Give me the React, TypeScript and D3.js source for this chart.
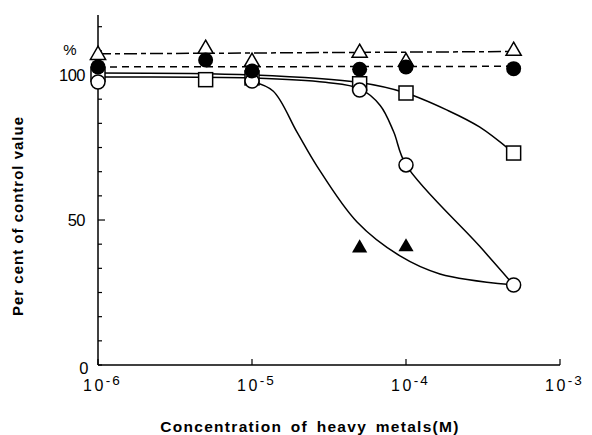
import { scaleLog, scaleLinear, line, curveCatmullRom, symbol, symbolTriangle } from 'd3';

// concentrations (M) where measurements were taken
const conc = [1e-6, 5e-6, 1e-5, 5e-5, 1e-4, 5e-4];

// per cent of control value
const openTriangle = [106.9, 109, 104.5, 107.6, 104.5, 108.3];
const filledCircle = [102.8, 105.2, 101.4, 102, 102.8, 102.2];
const openSquare = [100.3, 98.4, 99, 97, 93.8, 73.1];
const openCircle = [97.6, null, 97.9, 94.8, 69, 27.6];
const filledTriangleConc = [5e-5, 1e-4];
const filledTriangle = [40.3, 40.7];

// hand drawn fitted curves
const triLineConc = [1e-6, 5e-4];
const triLineVal = [107.3, 108.1];
const dotLineConc = [1e-6, 5e-4];
const dotLineVal = [102.8, 103.0];
const squareCurveConc = [1e-6, 1e-5, 5e-5, 1e-4, 1.85e-4, 3e-4, 5e-4];
const squareCurveVal = [100.7, 100, 97.4, 93.8, 87.9, 82.1, 73.1];
const circleCurveConc = [1e-6, 1e-5, 3e-5, 5e-5, 6.8e-5, 8.3e-5, 1e-4, 3e-4, 5e-4];
const circleCurveVal = [99.3, 99, 97.5, 95.3, 89.5, 80.5, 69, 41, 27.6];
const steepCurveConc = [1e-5, 1.37e-5, 1.96e-5, 2.64e-5, 4.81e-5, 9.14e-5, 1.66e-4, 5e-4];
const steepCurveVal = [97.8, 94.5, 80.3, 68.6, 49.3, 37.6, 31.4, 27.6];

const xTicks = [1e-6, 1e-5, 1e-4, 1e-3];
const xTickExp = ['6', '5', '4', '3'];
const yLabels = [0, 50, 100];

export default function App() {
  const width = 592;
  const height = 435;
  const x = scaleLog().domain([1e-6, 1e-3]).range([98, 560]);
  const y = scaleLinear().domain([0, 120.7]).range([365, 15]);
  const minorTicks = Array.from({ length: 15 }, (_, i) => (i * 100) / 12);

  const path = (cs: number[], vs: number[]) =>
    line<number>()
      .x((c) => x(c))
      .y((_, i) => y(vs[i]))
      .curve(curveCatmullRom.alpha(0.5))(cs) as string;

  const tri = symbol().type(symbolTriangle).size(100)() as string;
  const font = '"Liberation Sans", Arial, sans-serif';

  return (
    <svg width={width} height={height} style={{ position: 'absolute', left: 0, top: 0, background: '#fff' }}>
      {/* axes */}
      <line x1={x(1e-6)} x2={x(1e-6)} y1={y(0)} y2={15} stroke="#000" strokeWidth={1.5} />
      <line x1={x(1e-6)} x2={x(1e-3)} y1={y(0)} y2={y(0)} stroke="#000" strokeWidth={1.5} />
      {minorTicks.map((t) => (
        <line key={t} x1={x(1e-6)} x2={x(1e-6) + (t === 50 ? 7 : 4)} y1={y(t)} y2={y(t)} stroke="#000" strokeWidth={1.2} />
      ))}
      {xTicks.map((t) => (
        <line key={t} x1={x(t)} x2={x(t)} y1={y(0)} y2={y(0) - 6} stroke="#000" strokeWidth={1.2} />
      ))}
      {yLabels.map((v) => (
        <text key={v} x={x(1e-6) - (v === 0 ? 10 : 13)} y={y(v) + (v === 0 ? 9 : 6)} textAnchor="end"
          fontFamily={font} fontSize={16.5} letterSpacing={-0.5}>{v}</text>
      ))}
      <text x={70} y={55} fontFamily={font} fontSize={15} textAnchor="middle">%</text>
      {xTicks.map((t, i) => (
        <text key={t} x={x(t) - 15} y={391} fontFamily={font} fontSize={16} letterSpacing={2.5}>
          10<tspan dy={-6} fontSize={13.5} letterSpacing={2}>-{xTickExp[i]}</tspan>
        </text>
      ))}
      <text x={310} y={432} textAnchor="middle" fontFamily={font} fontWeight="bold" fontSize={15.5}
        letterSpacing={1.3} wordSpacing={3}>Concentration of heavy metals(M)</text>
      <text transform="translate(23,216) rotate(-90)" textAnchor="middle" fontFamily={font} fontWeight="bold"
        fontSize={15} letterSpacing={1}>Per cent of control value</text>

      {/* curves */}
      <path d={path(triLineConc, triLineVal)} fill="none" stroke="#000" strokeWidth={1.5} strokeDasharray="13,4,5,4" />
      <path d={path(dotLineConc, dotLineVal)} fill="none" stroke="#000" strokeWidth={1.5} strokeDasharray="7,5" />
      <path d={path(squareCurveConc, squareCurveVal)} fill="none" stroke="#000" strokeWidth={1.5} />
      <path d={path(circleCurveConc, circleCurveVal)} fill="none" stroke="#000" strokeWidth={1.5} />
      <path d={path(steepCurveConc, steepCurveVal)} fill="none" stroke="#000" strokeWidth={1.5} />

      {/* markers */}
      {conc.map((c, i) => (
        <path key={'t' + i} d={tri} transform={`translate(${x(c)},${y(openTriangle[i])})`} fill="#fff" stroke="#000" strokeWidth={1.5} />
      ))}
      {conc.map((c, i) => (
        <rect key={'s' + i} x={x(c) - 7} y={y(openSquare[i]) - 7} width={14} height={14} fill="#fff" stroke="#000" strokeWidth={1.5} />
      ))}
      {conc.map((c, i) =>
        openCircle[i] == null ? null : (
          <circle key={'c' + i} cx={x(c)} cy={y(openCircle[i] as number)} r={7} fill="#fff" stroke="#000" strokeWidth={1.5} />
        )
      )}
      {conc.map((c, i) => (
        <circle key={'f' + i} cx={x(c)} cy={y(filledCircle[i])} r={7.5} fill="#000" />
      ))}
      {filledTriangleConc.map((c, i) => (
        <path key={'ft' + i} d={tri} transform={`translate(${x(c)},${y(filledTriangle[i])})`} fill="#000" />
      ))}
    </svg>
  );
}
